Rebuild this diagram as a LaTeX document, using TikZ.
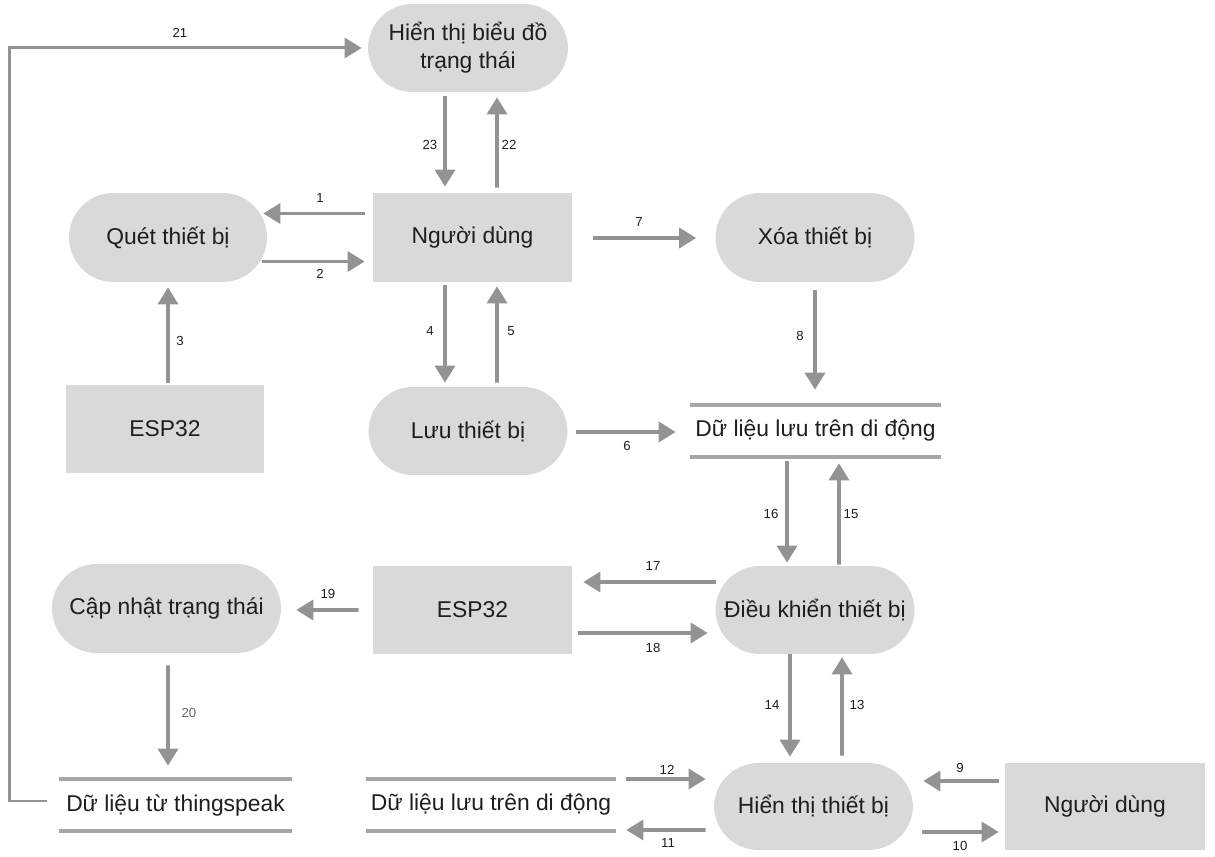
\documentclass[tikz,border=0pt]{standalone}
\usepackage{fontspec}
\setmainfont{Liberation Sans}
\usetikzlibrary{arrows.meta,calc}
\definecolor{boxfill}{HTML}{D9D9D9}
\definecolor{arrowgray}{HTML}{939393}
\definecolor{storegray}{HTML}{A6A6A6}
\definecolor{txt}{HTML}{1E1E1E}
\tikzset{
  proc/.style={fill=boxfill, minimum width=4cm, minimum height=1.78cm, rounded corners=0.89cm, text=txt, font=\fontsize{13}{16}\selectfont, align=center, inner sep=0pt},
  ent/.style={fill=boxfill, minimum width=3.98cm, minimum height=1.78cm, text=txt, font=\fontsize{13}{16}\selectfont, inner sep=0pt},
  store/.style={minimum height=1.04cm, text=txt, font=\fontsize{13}{16}\selectfont, inner sep=0pt},
  storeline/.style={draw=storegray, line width=2.2pt},
  arr/.style={draw=arrowgray, line width=2pt, -{Triangle[length=0.34cm, width=0.4cm]}},
  lbl/.style={font=\fontsize{7.5}{9}\selectfont, text=txt, inner sep=0pt}
}
\begin{document}
\begin{tikzpicture}[x=0.02cm, y=-0.02cm]
\useasboundingbox (0,0) rectangle (1215,857);
% nodes
\node[proc, minimum height=1.76cm] (hb) at (468,48) {Hiển thị biểu đồ\\trạng thái};
\node[ent] (nd1) at (472.5,237.5) {Người dùng};
\node[proc, minimum width=3.96cm] (qt) at (168,237.5) {Quét thiết bị};
\node[proc, minimum width=3.98cm] (xt) at (815,237.5) {Xóa thiết bị};
\node[ent, minimum width=3.96cm, minimum height=1.76cm] (e1) at (165,429) {ESP32};
\node[proc, minimum width=3.98cm, minimum height=1.76cm] (lt) at (468,431) {Lưu thiết bị};
\node[store, minimum width=5.02cm] (s1) at (815.5,431) {Dữ liệu lưu trên di động};
\node[proc, minimum width=3.98cm, minimum height=1.76cm] (dk) at (815,610) {Điều khiển thiết bị};
\node[ent, minimum height=1.76cm] (e2) at (472.5,610) {ESP32};
\node[proc, minimum width=4.58cm] (cn) at (166.5,608.5) {Cập nhật trạng thái};
\node[store, minimum width=4.66cm] (s2) at (175.5,805) {Dữ liệu từ thingspeak};
\node[store, minimum width=5cm] (s3) at (491,805) {Dữ liệu lưu trên di động};
\node[proc, minimum width=3.98cm, minimum height=1.74cm] (ht) at (813.5,806.5) {Hiển thị thiết bị};
\node[ent, minimum width=4.02cm, minimum height=1.74cm] (nd2) at (1105,806.5) {Người dùng};
% store lines
\foreach \s in {s1,s2,s3}{
  \draw[storeline] (\s.north west) -- (\s.north east);
  \draw[storeline] (\s.south west) -- (\s.south east);
}
% connectors
\draw[arr] ($(nd1.west)+(-8,-24)$) -- ($(qt.east)+(-4,-24)$);
\draw[arr] ($(qt.east)+(-5,24)$) -- ($(nd1.west)+(-8,24)$);
\draw[arr] ($(hb.south)+(-23,4)$) -- ($(nd1.north)+(-27.5,-6)$);
\draw[arr] ($(nd1.north)+(24.5,-5)$) -- ($(hb.south)+(29,5)$);
\draw[arr] ($(e1.north)+(3,-2)$) -- ($(qt.south)+(0,5)$);
\draw[arr] ($(nd1.south)+(-27.5,3)$) -- ($(lt.north)+(-23,-4)$);
\draw[arr] ($(lt.north)+(29,-4)$) -- ($(nd1.south)+(24.5,4)$);
\draw[arr] ($(nd1.east)+(21,0.5)$) -- ($(xt.west)+(-19,0.5)$);
\draw[arr] ($(xt.south)+(0,8)$) -- ($(s1.north)+(-0.5,-15)$);
\draw[arr] ($(lt.east)+(8.5,1)$) -- ($(s1.west)+(-14,1)$);
\draw[arr] ($(s1.south)+(-28.5,4)$) -- ($(dk.north)+(-28,-3)$);
\draw[arr] ($(dk.north)+(24,-1)$) -- ($(s1.south)+(23.5,6)$);
\draw[arr] ($(dk.west)+(0.5,-28)$) -- ($(e2.east)+(11,-28)$);
\draw[arr] ($(e2.east)+(6,23)$) -- ($(dk.west)+(-7.5,23)$);
\draw[arr] ($(e2.west)+(-14,0)$) -- ($(cn.east)+(15,1.5)$);
\draw[arr] ($(cn.south)+(1.5,12)$) -- ($(s2.north)+(-7.5,-13)$);
\draw[arr] ($(dk.south)+(-25,0)$) -- ($(ht.north)+(-23.5,-6)$);
\draw[arr] ($(ht.north)+(28.5,-7)$) -- ($(dk.south)+(27,3)$);
\draw[arr] ($(s3.east)+(10,-26)$) -- ($(ht.west)+(-8,-27.5)$);
\draw[arr] ($(ht.west)+(-8,23.5)$) -- ($(s3.east)+(10,25)$);
\draw[arr] ($(nd2.west)+(-5.5,-25.5)$) -- ($(ht.east)+(10,-25.5)$);
\draw[arr] ($(ht.east)+(9,25.5)$) -- ($(nd2.west)+(-5.5,25.5)$);
\draw[arr, line width=1.7pt] ($(s2.west)+(-12,-4)$) -- ++(-37,0) |- ($(hb.west)+(-6,0)$);
% labels
\node[lbl] (l1) at (320,198) {1};
\node[lbl] (l2) at (320,274) {2};
\node[lbl] (l21) at (180,33) {21};
\node[lbl] (l23) at (430,145) {23};
\node[lbl] (l22) at (509,145) {22};
\node[lbl] (l3) at (180,341) {3};
\node[lbl] (l4) at (430,331) {4};
\node[lbl] (l5) at (511,331) {5};
\node[lbl] (l7) at (639,222) {7};
\node[lbl] (l8) at (800,336) {8};
\node[lbl] (l6) at (627,446) {6};
\node[lbl] (l16) at (771,514) {16};
\node[lbl] (l15) at (851,514) {15};
\node[lbl] (l17) at (653,566) {17};
\node[lbl] (l18) at (653,648) {18};
\node[lbl] (l19) at (328,594) {19};
\node[lbl, text=black!60] (l20) at (189,713) {20};
\node[lbl] (l14) at (772,705) {14};
\node[lbl] (l13) at (857,705) {13};
\node[lbl] (l12) at (667,770) {12};
\node[lbl] (l11) at (668,843) {11};
\node[lbl] (l9) at (960,768) {9};
\node[lbl] (l10) at (960,846) {10};
\end{tikzpicture}
\end{document}
